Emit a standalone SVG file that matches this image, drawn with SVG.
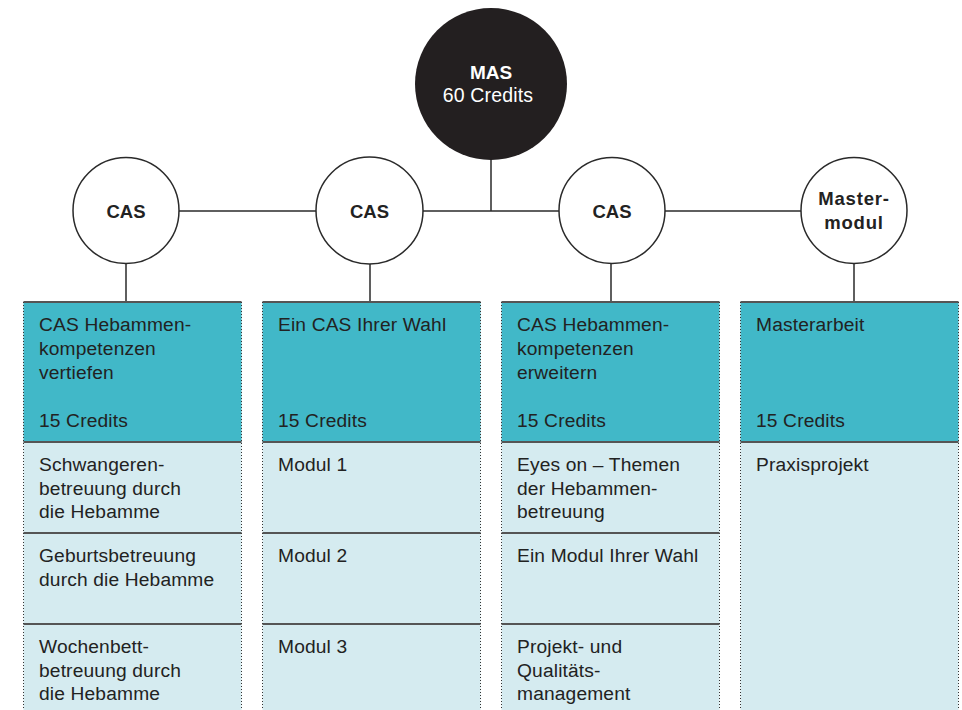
<svg xmlns="http://www.w3.org/2000/svg" width="962" height="710" viewBox="0 0 962 710">
<style>
.t{font-family:"Liberation Sans",Arial,sans-serif;font-size:19.2px;letter-spacing:0.15px;fill:#222}
.b{font-family:"Liberation Sans",Arial,sans-serif;font-size:18.5px;font-weight:bold;fill:#222;text-anchor:middle}
.ln{stroke:#2a2a2a;stroke-width:1.5;fill:none}
.circ{fill:#fff;stroke:#2a2a2a;stroke-width:1.5}
.hd{fill:#41B8C8}
.bd{fill:#D5EBF0}
.edge{stroke:#333;stroke-width:1;stroke-dasharray:1 2;fill:none}
.div{stroke:#555;stroke-width:2;fill:none}
</style>
<rect width="962" height="710" fill="#fff"/>
<g id="connectors">
<line class="ln" x1="491" y1="150" x2="491" y2="211"/>
<line class="ln" x1="126" y1="211" x2="854" y2="211"/>
<line class="ln" x1="126" y1="250" x2="126" y2="302"/>
<line class="ln" x1="370" y1="250" x2="370" y2="302"/>
<line class="ln" x1="611" y1="250" x2="611" y2="302"/>
<line class="ln" x1="854" y1="250" x2="854" y2="302"/>
</g>
<g id="mas">
<circle cx="491" cy="84" r="76" fill="#231F20"/>
<text x="491" y="79" text-anchor="middle" font-family="Liberation Sans, Arial, sans-serif" font-size="19px" font-weight="bold" fill="#fff">MAS</text>
<text x="488" y="102" text-anchor="middle" font-family="Liberation Sans, Arial, sans-serif" font-size="19.5px" letter-spacing="0.15" fill="#fff">60 Credits</text>
</g>
<g id="cas1"><circle class="circ" cx="126" cy="210.5" r="53"/><text class="b" x="126" y="218">CAS</text></g>
<g id="cas2"><circle class="circ" cx="369.5" cy="210.5" r="53.5"/><text class="b" x="369.5" y="218">CAS</text></g>
<g id="cas3"><circle class="circ" cx="612" cy="210.5" r="53"/><text class="b" x="612" y="218">CAS</text></g>
<g id="mastermodul"><circle class="circ" cx="854" cy="210.5" r="53"/>
<text class="b" x="854" y="205" letter-spacing="0.8">Master-</text>
<text class="b" x="854" y="229" letter-spacing="0.8">modul</text></g>

<g id="col1">
<rect class="hd" x="23.5" y="302" width="218" height="140"/>
<rect class="bd" x="23.5" y="442" width="218" height="268"/>
<line class="div" x1="23.5" y1="302" x2="241.5" y2="302"/>
<line class="div" x1="23.5" y1="442" x2="241.5" y2="442"/>
<line class="div" x1="23.5" y1="533" x2="241.5" y2="533"/>
<line class="div" x1="23.5" y1="624" x2="241.5" y2="624"/>
<line class="edge" x1="23.5" y1="302" x2="23.5" y2="710"/>
<line class="edge" x1="241.5" y1="302" x2="241.5" y2="710"/>
<text class="t" x="39" y="331">CAS Hebammen-</text>
<text class="t" x="39" y="355">kompetenzen</text>
<text class="t" x="39" y="379">vertiefen</text>
<text class="t" x="39" y="427">15 Credits</text>
<text class="t" x="39" y="471">Schwangeren-</text>
<text class="t" x="39" y="494.5">betreuung durch</text>
<text class="t" x="39" y="518">die Hebamme</text>
<text class="t" x="39" y="562">Geburtsbetreuung</text>
<text class="t" x="39" y="585.5">durch die Hebamme</text>
<text class="t" x="39" y="653">Wochenbett-</text>
<text class="t" x="39" y="676.5">betreuung durch</text>
<text class="t" x="39" y="700">die Hebamme</text>
</g>

<g id="col2">
<rect class="hd" x="262.5" y="302" width="218" height="140"/>
<rect class="bd" x="262.5" y="442" width="218" height="268"/>
<line class="div" x1="262.5" y1="302" x2="480.5" y2="302"/>
<line class="div" x1="262.5" y1="442" x2="480.5" y2="442"/>
<line class="div" x1="262.5" y1="533" x2="480.5" y2="533"/>
<line class="div" x1="262.5" y1="624" x2="480.5" y2="624"/>
<line class="edge" x1="262.5" y1="302" x2="262.5" y2="710"/>
<line class="edge" x1="480.5" y1="302" x2="480.5" y2="710"/>
<text class="t" x="278" y="331">Ein CAS Ihrer Wahl</text>
<text class="t" x="278" y="427">15 Credits</text>
<text class="t" x="278" y="471">Modul 1</text>
<text class="t" x="278" y="562">Modul 2</text>
<text class="t" x="278" y="653">Modul 3</text>
</g>

<g id="col3">
<rect class="hd" x="501.5" y="302" width="218" height="140"/>
<rect class="bd" x="501.5" y="442" width="218" height="268"/>
<line class="div" x1="501.5" y1="302" x2="719.5" y2="302"/>
<line class="div" x1="501.5" y1="442" x2="719.5" y2="442"/>
<line class="div" x1="501.5" y1="533" x2="719.5" y2="533"/>
<line class="div" x1="501.5" y1="624" x2="719.5" y2="624"/>
<line class="edge" x1="501.5" y1="302" x2="501.5" y2="710"/>
<line class="edge" x1="719.5" y1="302" x2="719.5" y2="710"/>
<text class="t" x="517" y="331">CAS Hebammen-</text>
<text class="t" x="517" y="355">kompetenzen</text>
<text class="t" x="517" y="379">erweitern</text>
<text class="t" x="517" y="427">15 Credits</text>
<text class="t" x="517" y="471">Eyes on – Themen</text>
<text class="t" x="517" y="494.5">der Hebammen-</text>
<text class="t" x="517" y="518">betreuung</text>
<text class="t" x="517" y="562">Ein Modul Ihrer Wahl</text>
<text class="t" x="517" y="653">Projekt- und</text>
<text class="t" x="517" y="676.5">Qualitäts-</text>
<text class="t" x="517" y="700">management</text>
</g>

<g id="col4">
<rect class="hd" x="740.5" y="302" width="218" height="140"/>
<rect class="bd" x="740.5" y="442" width="218" height="268"/>
<line class="div" x1="740.5" y1="302" x2="958.5" y2="302"/>
<line class="div" x1="740.5" y1="442" x2="958.5" y2="442"/>
<line class="edge" x1="740.5" y1="302" x2="740.5" y2="710"/>
<line class="edge" x1="958.5" y1="302" x2="958.5" y2="710"/>
<text class="t" x="756" y="331">Masterarbeit</text>
<text class="t" x="756" y="427">15 Credits</text>
<text class="t" x="756" y="471">Praxisprojekt</text>
</g>
</svg>
